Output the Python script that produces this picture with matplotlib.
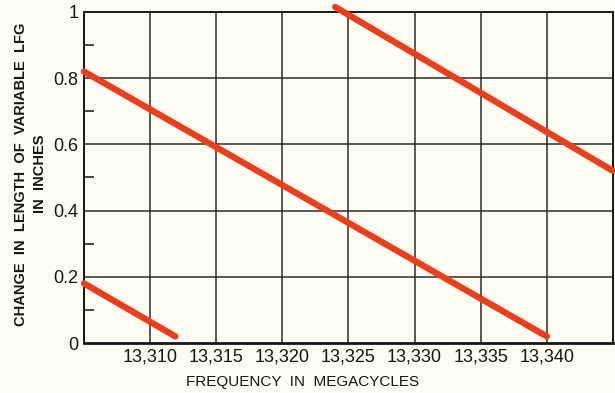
import matplotlib
matplotlib.use("Agg")
import matplotlib.pyplot as plt
import numpy as np

# calibration segments: frequency (Mc) vs change in LFG length (in)
seg_a_freq = [13305.0, 13311.9]
seg_a_len = [0.18, 0.02]
seg_b_freq = [13305.0, 13340.0]
seg_b_len = [0.82, 0.02]
seg_c_freq = [13324.0, 13345.0]
seg_c_len = [1.015, 0.52]

x_ticks = [13310, 13315, 13320, 13325, 13330, 13335, 13340]
x_tick_labels = ["13,310", "13,315", "13,320", "13,325", "13,330", "13,335", "13,340"]
y_ticks = [0, 0.2, 0.4, 0.6, 0.8, 1.0]
y_tick_labels = ["0", "0.2", "0.4", "0.6", "0.8", "1"]

PAPER = "#FCFCF3"
INK = "#161616"
RED = "#EA3E1C"
plt.rcParams["font.family"] = ["Liberation Sans", "DejaVu Sans"]

fig = plt.figure(figsize=(6.15, 3.93), dpi=100, facecolor=PAPER)
ax = fig.add_axes([0.1366, 0.1272, 0.86, 0.8423])
ax.set_facecolor(PAPER)

for fx, ly in [(seg_a_freq, seg_a_len), (seg_b_freq, seg_b_len), (seg_c_freq, seg_c_len)]:
    ax.plot(fx, ly, color=RED, lw=4.6, solid_capstyle="round", clip_on=False, zorder=3)

ax.set_xlim(13305, 13345)
ax.set_ylim(0, 1)
ax.set_xticks(x_ticks)
ax.set_xticklabels(x_tick_labels, fontsize=13)
ax.set_yticks(y_ticks)
ax.set_yticklabels(y_tick_labels, fontsize=13)
ax.set_yticks([0.1, 0.3, 0.5, 0.7, 0.9], minor=True)
ax.tick_params(axis="both", which="major", length=0, pad=4, colors=INK)
ax.tick_params(axis="y", which="minor", direction="in", length=7, width=1.1, color=INK)

# grid every 5 Mc and every 0.2 in
for xv in np.arange(13305, 13346, 5):
    ax.axvline(xv, color="#2A2A2A", lw=1.1, zorder=1)
for yv in [0.2, 0.4, 0.6, 0.8]:
    ax.axhline(yv, color="#2A2A2A", lw=1.1, zorder=1)
for s in ax.spines.values():
    s.set_color(INK)
    s.set_linewidth(1.4)
ax.spines["bottom"].set_linewidth(2.0)

ax.set_xlabel("FREQUENCY  IN  MEGACYCLES", fontsize=11, color=INK)
ax.xaxis.set_label_coords(0.414, -0.097)
ax.set_ylabel("CHANGE  IN  LENGTH  OF  VARIABLE  LFG\nIN  INCHES", fontsize=10.5,
              fontweight="bold", color=INK, linespacing=1.45)
ax.yaxis.set_label_coords(-0.07, 0.51)

fig.savefig("out.png", dpi=100, facecolor=PAPER)
